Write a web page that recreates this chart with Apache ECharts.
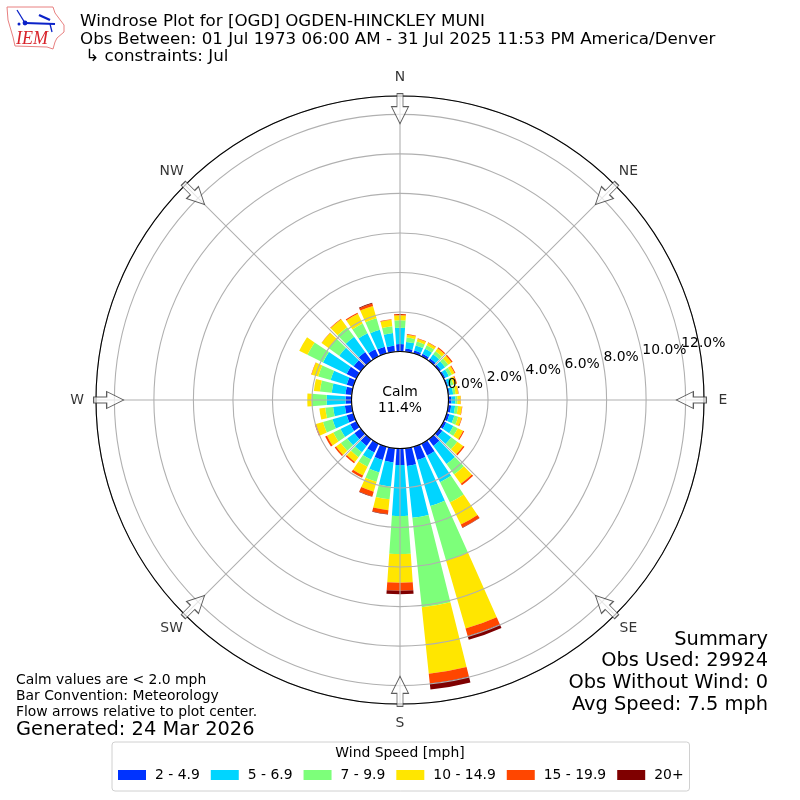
<!DOCTYPE html>
<html><head><meta charset="utf-8">
<style>html,body{margin:0;padding:0;background:#fff}#c{width:800px;height:800px}</style>
<script src="https://cdn.jsdelivr.net/npm/echarts@6/dist/echarts.min.js"></script>
</head><body><div id="c"></div>
<script>
const directions = [0,10,20,30,40,50,60,70,80,90,100,110,120,130,140,150,160,170,180,190,200,210,220,230,240,250,260,270,280,290,300,310,320,330,340,350];
const speed2to5   = [.38,.16,.15,.15,.14,.12,.1,.08,.08,.15,.15,.15,.15,.2,.42,.67,.7,.9,.84,.72,.7,.5,.42,.4,.35,.35,.35,.3,.32,.35,.55,.45,.55,.4,.35,.3];
const speed5to7   = [.82,.34,.27,.28,.26,.25,.2,.15,.17,.2,.2,.26,.4,.55,1.13,1.5,2.42,2.64,2.58,1.23,.66,.4,.4,.45,.55,.75,.6,.96,.7,.85,1.33,.9,.95,.9,.9,.65];
const speed7to10  = [.38,.22,.2,.2,.2,.2,.17,.13,.12,.1,.15,.2,.25,.38,.65,1.14,2.88,4.55,1.92,.65,.49,.4,.3,.4,.4,.5,.4,.76,.6,.65,.88,.65,.6,.55,.6,.35];
const speed10to15 = [.25,.15,.15,.14,.18,.2,.15,.15,.14,.17,.2,.18,.3,.37,.58,1.25,3.58,3.38,1.45,.55,.52,.5,.3,.3,.36,.37,.3,.22,.31,.35,.46,.45,.5,.55,.65,.33];
const speed15to20 = [.07,.03,.03,.03,.06,.07,.05,.04,.02,.01,.02,.03,.06,.08,.1,.17,.39,.5,.41,.2,.25,.13,.08,.08,.1,.06,0,0,0,.02,0,.01,.03,.06,.12,.03];
const speed20plus = [0,0,0,0,0,0,0,0,0,0,0,0,0,0,0,.02,.2,.31,.18,.02,.02,0,0,0,0,0,0,0,0,0,0,0,0,0,.04,0];
const binNames = ['2 - 4.9','5 - 6.9','7 - 9.9','10 - 14.9','15 - 19.9','20+'];
const binColors = ['#0033ff','#00d5ff','#7dff7a','#ffe600','#ff4600','#7f0000'];
const compassLabels = ['N','NE','E','SE','S','SW','W','NW'];
const arrowAngles = [0,45,90,135,180,225,270,315];
const titleLines = 'Windrose Plot for [OGD] OGDEN-HINCKLEY MUNI\nObs Between: 01 Jul 1973 06:00 AM - 31 Jul 2025 11:53 PM America/Denver\n \u21b3 constraints: Jul';
const summaryLines = ['Summary','Obs Used: 29924','Obs Without Wind: 0','Avg Speed: 7.5 mph'];
const noteLines = 'Calm values are < 2.0 mph\nBar Convention: Meteorology\nFlow arrows relative to plot center.';
const generatedText = 'Generated: 24 Mar 2026';
const calmText = 'Calm\n11.4%';
const legendTitle = 'Wind Speed [mph]';

const FONT = 'DejaVu Sans';
const RMAX = 12.93;
const polarBase = {center:[400,400], radius:[48.5,304]};
const values = [speed2to5,speed5to7,speed7to10,speed10to15,speed15to20,speed20plus];
const barSeries = values.map((d,i)=>({
  type:'bar', name:binNames[i], coordinateSystem:'polar', polarIndex:0, stack:'wind',
  data:d, barCategoryGap:'20%', z:2, silent:true,
  itemStyle:{color:binColors[i]}
}));
const arrowPath = 'path://M5.5,0 L11.5,0 L11.5,13 L17,13 L8.5,30 L0,13 L5.5,13 Z';
const arrowSeries = {
  type:'scatter', coordinateSystem:'polar', polarIndex:1, z:8, silent:true,
  symbol:arrowPath, symbolSize:[17,30],
  data:arrowAngles.map(a=>({value:[12.29,a], symbolRotate:-a})),
  itemStyle:{color:'rgba(255,255,255,0.85)',borderColor:'#333',borderWidth:1}
};
const compassSeries = {
  type:'scatter', coordinateSystem:'polar', polarIndex:3, z:8, silent:true,
  symbol:'circle', symbolSize:1, itemStyle:{color:'rgba(255,255,255,0)'},
  data:arrowAngles.map((a,i)=>({value:[1,a], name:compassLabels[i]})),
  label:{show:true,position:'inside',align:'center',verticalAlign:'middle',fontFamily:FONT,fontSize:13.9,color:'#000',formatter:p=>p.name}
};
const txt = (text,o,size,extra)=>Object.assign({
  text, textStyle:Object.assign({fontFamily:FONT,fontSize:size,fontWeight:'normal',color:'#000'},extra||{}),
  padding:0, z:10},o);

const chart = echarts.init(document.getElementById('c'),null,{renderer:'canvas'});
chart.setOption({
  animation:false, backgroundColor:'#fff',
  textStyle:{fontFamily:FONT},
  title:[
    txt(titleLines,{left:80,top:13},16.7,{lineHeight:17.5}),
    ...summaryLines.map((s,i)=>txt(s,{right:32,top:630+i*21.8},19.4)),
    txt(noteLines,{left:16,top:672},13.9,{lineHeight:16}),
    txt(generatedText,{left:16,top:720},19.4),
    txt(calmText,{left:400,top:385,textAlign:'center'},13.9,{lineHeight:15.5,align:'center'}),
    txt(legendTitle,{left:400,top:746,textAlign:'center'},13.9)
  ],
  polar:[Object.assign({},polarBase),Object.assign({},polarBase),Object.assign({},polarBase),{center:[400,400],radius:[0,323]}],
  angleAxis:[
    {polarIndex:0,type:'category',data:directions,startAngle:95,clockwise:true,show:false,boundaryGap:true},
    {polarIndex:1,type:'value',min:0,max:360,interval:45,startAngle:90,clockwise:true,z:4,
     axisLine:{show:false},axisTick:{show:false},axisLabel:{show:false},
     splitLine:{show:true,lineStyle:{color:'#b0b0b0',width:1.1}}},
    {polarIndex:2,type:'value',min:0,max:360,startAngle:10,clockwise:true,show:false},
    {polarIndex:3,type:'value',min:0,max:360,startAngle:90,clockwise:true,show:false}
  ],
  radiusAxis:[
    {polarIndex:0,type:'value',min:0,max:RMAX,show:false},
    {polarIndex:1,type:'value',min:0,max:RMAX,interval:RMAX,z:6,
     axisLine:{show:false},axisTick:{show:false},axisLabel:{show:false},
     splitLine:{show:true,lineStyle:{color:'#000',width:1.1}}},
    {polarIndex:2,type:'value',min:0,max:RMAX,interval:2,z:5,
     axisLine:{show:false},axisTick:{show:false},
     splitLine:{show:true,showMinLine:false,showMaxLine:false,lineStyle:{color:'#b0b0b0',width:1.1}},
     axisLabel:{show:true,showMaxLabel:false,showMinLabel:true,margin:0,rotate:0,align:'left',verticalAlign:'bottom',
       fontSize:13.9,color:'#000',fontFamily:FONT,formatter:v=>v.toFixed(1)+'%'}},
    {polarIndex:3,type:'value',min:0,max:1,show:false}
  ],
  legend:{
    data:binNames, left:112, top:742, orient:'horizontal', icon:'rect', itemWidth:28, itemHeight:10, itemGap:11,
    padding:[26,6,9,6], backgroundColor:'#fff', borderColor:'#d0d0d0', borderWidth:1, borderRadius:3,
    selectedMode:false, textStyle:{fontFamily:FONT,fontSize:13.9,color:'#000',padding:[0,0,0,4]}, z:6
  },
  graphic:[
    {type:'polyline',silent:true,shape:{points:[[7,7],[53,7],[55,13],[64,25],[64,32],[57,38],[55,42],[53,49],[47,47],[15,46],[13,37],[8,20],[7,7]]},style:{fill:'none',stroke:'#e88080',lineWidth:1}},
    {type:'line',silent:true,shape:{x1:25,y1:23,x2:55,y2:24},style:{stroke:'#0b22c8',lineWidth:2}},
    {type:'line',silent:true,shape:{x1:17,y1:10,x2:25,y2:23},style:{stroke:'#0b22c8',lineWidth:1.3}},
    {type:'line',silent:true,shape:{x1:39,y1:15,x2:50,y2:20},style:{stroke:'#0b22c8',lineWidth:2.4}},
    {type:'line',silent:true,shape:{x1:50,y1:24,x2:52,y2:32},style:{stroke:'#0b22c8',lineWidth:1.3}},
    {type:'circle',silent:true,shape:{cx:25,cy:23,r:2.4},style:{fill:'#0b22c8'}},
    {type:'circle',silent:true,shape:{cx:19,cy:24,r:1.5},style:{fill:'#0b22c8'}},
    {type:'text',silent:true,x:16,y:30,style:{text:'IEM',fill:'#d8232a',font:'italic 18px "Liberation Serif"'}}
  ],
  series:barSeries.concat([arrowSeries,compassSeries])
});
</script></body></html>
